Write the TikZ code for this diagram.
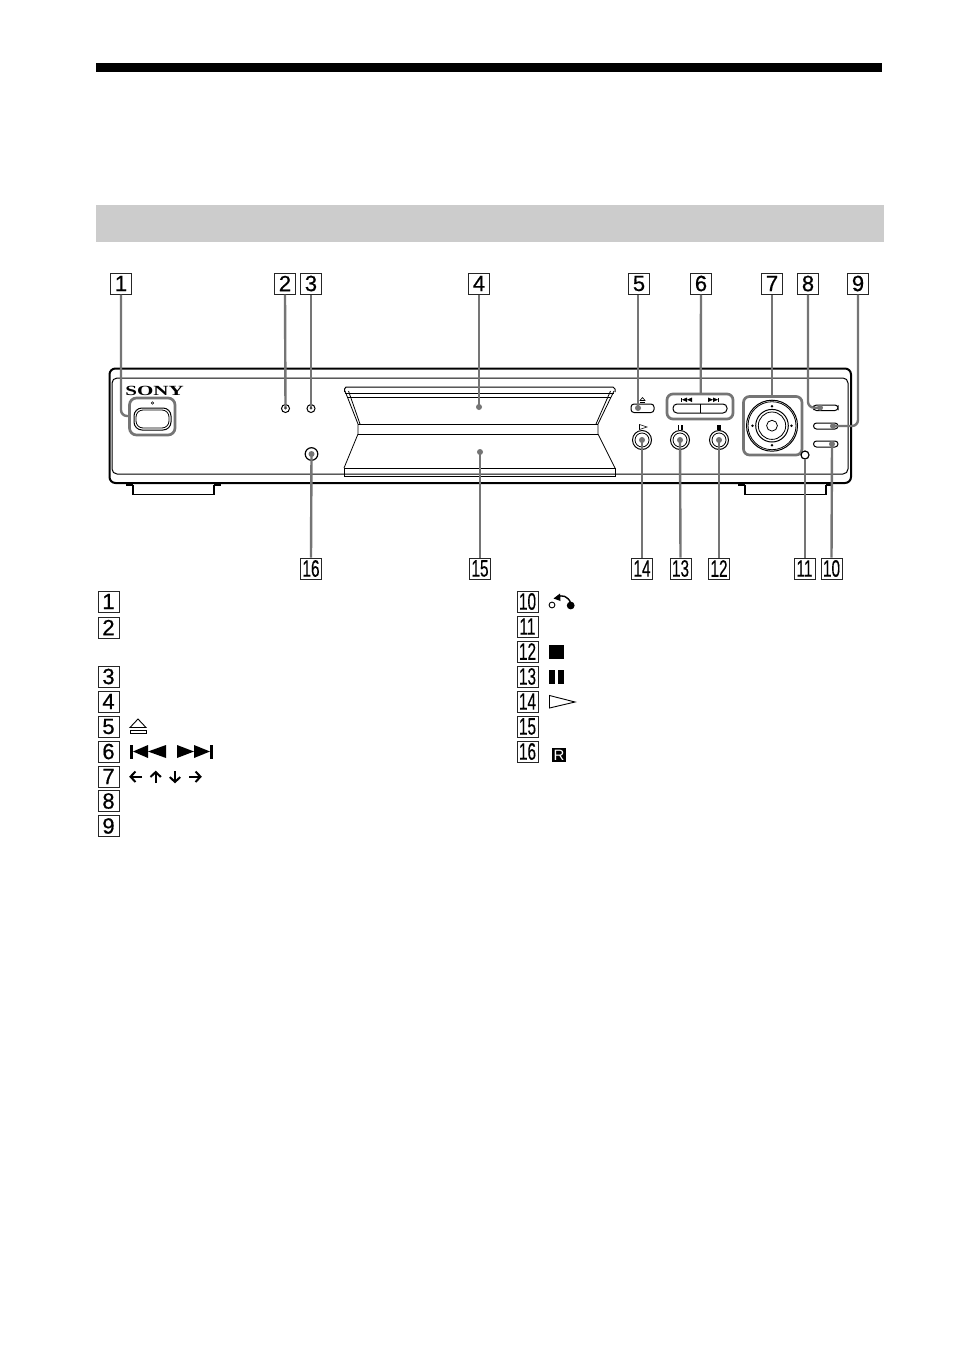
\documentclass[tikz,border=0pt]{standalone}
\usepackage{fontspec}
\setmainfont{Liberation Sans}
\newfontfamily\numfont[FakeBold=0.6]{Liberation Sans}
\newfontfamily\numfontb[FakeBold=0.3]{Liberation Sans}
\newfontfamily\sonyfont{Liberation Serif}
\usetikzlibrary{calc}
\definecolor{lead}{HTML}{757575}
\tikzset{
  numbox/.style={draw=black!85,line width=1pt,fill=white,minimum width=21pt,minimum height=21pt,inner sep=0pt,font=\numfont\fontsize{22}{22}\selectfont},
  leader/.style={draw=lead,line width=2.4pt,rounded corners=6pt},
  devline/.style={draw=black,line width=1pt},
  thin line/.style={draw=black,line width=.8pt},
  group box/.style={draw=lead,line width=2.7pt,rounded corners=6pt},
  pin/.style={circle,fill=lead,inner sep=0pt,minimum size=6pt},
  small pin/.style={circle,fill=black!75,inner sep=0pt,minimum size=3pt},
  oblong/.style={draw=black,line width=1pt,rounded corners=3pt,fill=white},
  icon arrow/.style={line width=2pt,draw=black},
}
\newcommand{\one}[1]{#1}
\newcommand{\two}[1]{\scalebox{.7}[1.08]{\numfontb #1}}
\begin{document}
\begin{tikzpicture}[x=1pt,y=-1pt]
\useasboundingbox (0,0) rectangle (954,1352);
\fill[white] (0,0) rectangle (954,1352);
% bars
\fill[black] (96,63) rectangle (882,72);
\fill[black!20] (96,205) rectangle (884,241.5);

% feet
\foreach \a/\b/\c/\d in {126/133/214/221,738/745/826/831}{
  \draw[line width=2pt] (\a,485) -- (\b,485);
  \draw[line width=2pt] (\c,485) -- (\d,485);
  \draw[devline,line width=1.3pt] (\b,485) -- (\b,494.5) -- (\c,494.5) -- (\c,485);
}
% chassis
\draw[draw=black,line width=2pt,rounded corners=6pt] (109.5,368.5) rectangle (851,483);
\draw[devline,rounded corners=5pt] (112,378) -- (848,378) -- (848,474) -- (112,474) -- cycle;
\node[font=\sonyfont\bfseries\fontsize{14}{14}\selectfont,inner sep=0pt] (sony) at (154.5,390.5) {\scalebox{1.5}[1]{SONY}};
% power
\draw[oblong,rounded corners=8pt] (134,408) rectangle (171,430);
\draw[thin line,rounded corners=7pt] (136,410) rectangle (169,428);
\draw[line width=.6pt] (152.5,403) circle (1.3);
\draw[group box,rounded corners=7pt] (129.5,398) rectangle (175,435);
% leds
\draw[devline] (285.5,408.5) circle (4);
\draw[devline] (311,408.5) circle (4);
\draw[devline,line width=1.2pt] (311.5,454) circle (6.3);
% tray
\draw[devline] (344.5,392) -- (344.5,389) -- (346,387) -- (613,387) -- (615,389) -- (615,392);
\draw[devline] (344,468) -- (344,476) -- (615,476) -- (615,468) -- cycle;
\draw[thin line] (345,393) -- (614,393);
\draw[thin line] (348,397) -- (611,397);
\draw[thin line] (358,424) -- (598,424);
\draw[thin line] (358,434) -- (598,434);
\draw[thin line] (345,391) -- (358,424) -- (358,434) -- (344,468);
\draw[thin line] (348.5,391) -- (360,424);
\draw[thin line] (614,391) -- (598,424) -- (598,434) -- (615,468);
\draw[thin line] (610.5,391) -- (596,424);
% eject button
\draw[oblong] (631,404) rectangle (654,412.5);
\draw[line width=.6pt] (640,400.5) -- (642.5,397.5) -- (645,400.5) -- cycle;
\fill (640,401.5) rectangle (645,402.4);
% track group
\draw[oblong,rounded corners=4pt] (673,404) rectangle (727,413);
\draw[devline] (700,404) -- (700,413);
\fill (681,397.5) rectangle (682,402); \fill (687,397.5) -- (682,399.7) -- (687,402) -- cycle; \fill (692,397.5) -- (687,399.7) -- (692,402) -- cycle;
\fill (708,397.5) -- (713,399.7) -- (708,402) -- cycle; \fill (713,397.5) -- (718,399.7) -- (713,402) -- cycle; \fill (718,397.5) rectangle (719,402);
\draw[group box] (667,394) rectangle (733,419);
% nav pad
\coordinate (padc) at (772,425.7);
\draw[devline] (padc) circle (25.5);
\draw[thin line] (padc) circle (24);
\draw[devline] (padc) circle (16.3);
\draw[thin line] (padc) circle (13.7);
\draw[thin line] (padc) circle (5.4);
\foreach \dx/\dy in {0/-19.5,0/19.5,-19.5/0,19.5/0}{
  \fill ($(padc)+(\dx,\dy)$) circle (1.4);
}
\draw[group box] (743.5,396.5) rectangle (802,455);
% right oblongs
\draw[oblong] (813.5,405) rectangle (838,410.5);
\draw[oblong] (813.5,423) rectangle (838,429);
\draw[oblong] (813.5,441) rectangle (838,447);
% small circle
\draw[draw=black,line width=1.2pt,fill=white] (805,455) circle (4);
% round buttons
\foreach \x in {642,680,719}{
  \draw[devline] (\x,440) circle (9.5);
  \draw[thin line] (\x,440) circle (7);
}
\draw[line width=.6pt] (639.5,424.5) -- (647,427) -- (639.5,429.5) -- cycle;
\fill (677.6,424.5) rectangle (679.4,429.5); \fill (680.8,424.5) rectangle (682.6,429.5);
\fill (716.8,424.5) rectangle (721.2,429.5);

% anchors of connectors
\coordinate (t1) at (130,416);
\coordinate (t2) at (285.5,408);
\coordinate (t3) at (311,408);
\coordinate (t4) at (479,407);
\coordinate (t5) at (638,408);
\coordinate (t6) at (700.7,394);
\coordinate (t7) at (772,396.5);
\coordinate (t8) at (820,407.7);
\coordinate (t9) at (833,426);
\coordinate (t10) at (832,444);
\coordinate (t11) at (805,459);
\coordinate (t12) at (719,440);
\coordinate (t13) at (680,440);
\coordinate (t14) at (642,440);
\coordinate (t15) at (480,452);
\coordinate (t16) at (311.5,454);

% top labels
\node[numbox] (a1) at (121,283.5) {\one{1}};
\node[numbox] (a2) at (285,283.5) {\one{2}};
\node[numbox] (a3) at (311,283.5) {\one{3}};
\node[numbox] (a4) at (479,283.5) {\one{4}};
\node[numbox] (a5) at (639,283.5) {\one{5}};
\node[numbox] (a6) at (701,283.5) {\one{6}};
\node[numbox] (a7) at (772,283.5) {\one{7}};
\node[numbox] (a8) at (808,283.5) {\one{8}};
\node[numbox] (a9) at (858,283.5) {\one{9}};
% bottom labels
\node[numbox] (a16) at (311,568.5) {\two{16}};
\node[numbox] (a15) at (480,568.5) {\two{15}};
\node[numbox] (a14) at (642,568.5) {\two{14}};
\node[numbox] (a13) at (680.5,568.5) {\two{13}};
\node[numbox] (a12) at (719,568.5) {\two{12}};
\node[numbox] (a11) at (804.5,568.5) {\two{11}};
\node[numbox] (a10) at (831.5,568.5) {\two{10}};

% leaders
\draw[leader] (a1.south) -- (a1.south |- t1) -- (t1);
\draw[leader] (a2.south) -- (t2);
\draw[leader] (a3.south) -- (t3);
\draw[leader] (a4.south) -- (t4);
\draw[leader] (a5.south -| t5) -- (t5);
\draw[leader] (a6.south) -- (t6);
\draw[leader] (a7.south) -- (t7);
\draw[leader] (a8.south) -- (a8.south |- t8) -- (t8);
\draw[leader] (a9.south) -- (a9.south |- t9) -- (t9);
\draw[leader] (a10.north) -- (t10);
\draw[leader] (a11.north -| t11) -- (t11);
\draw[leader] (a12.north) -- (t12);
\draw[leader] (a13.north) -- (t13);
\draw[leader] (a14.north) -- (t14);
\draw[leader] (a15.north) -- (t15);
\draw[leader] (a16.north) -- (t16);
\foreach \t in {t4,t5,t8,t9,t10,t12,t13,t14,t15,t16} \node[pin] at (\t) {};
\foreach \t in {t2,t3} \node[small pin] at (\t) {};

% legend left
\node[numbox] (l1) at (108.5,601.5) {\one{1}};
\node[numbox] (l2) at (108.5,627.5) {\one{2}};
\node[numbox] (l3) at (108.5,676.5) {\one{3}};
\node[numbox] (l4) at (108.5,701.5) {\one{4}};
\node[numbox] (l5) at (108.5,726.5) {\one{5}};
\node[numbox] (l6) at (108.5,751.5) {\one{6}};
\node[numbox] (l7) at (108.5,776.5) {\one{7}};
\node[numbox] (l8) at (108.5,801) {\one{8}};
\node[numbox] (l9) at (108.5,826) {\one{9}};
% legend right
\node[numbox] (r10) at (527.5,601.5) {\two{10}};
\node[numbox] (r11) at (527.5,626.5) {\two{11}};
\node[numbox] (r12) at (527.5,651.5) {\two{12}};
\node[numbox] (r13) at (527.5,676.5) {\two{13}};
\node[numbox] (r14) at (527.5,701.5) {\two{14}};
\node[numbox] (r15) at (527.5,726.5) {\two{15}};
\node[numbox] (r16) at (527.5,751.5) {\two{16}};

% legend glyphs: eject
\draw[line width=.9pt] (130,727.5) -- (138,719) -- (146,727.5) -- cycle;
\draw[line width=.9pt] (130,730) rectangle (146,733.5);
% previous / next
\fill (130,744.5) rectangle (133,758.5);
\fill (148,745) -- (133,751.5) -- (148,758) -- cycle;
\fill (166,745) -- (148,751.5) -- (166,758) -- cycle;
\fill (177,745) -- (194,751.5) -- (177,758) -- cycle;
\fill (194,745) -- (210,751.5) -- (194,758) -- cycle;
\fill (210,744.5) rectangle (213,758.5);
% arrows
\draw[icon arrow] (142,776.7) -- (130.5,776.7);
\draw[icon arrow] (135.5,771.5) -- (130.5,776.7) -- (135.5,782);
\draw[icon arrow] (155.7,783) -- (155.7,772);
\draw[icon arrow] (150.5,777) -- (155.7,772) -- (160.9,777);
\draw[icon arrow] (175,771) -- (175,782);
\draw[icon arrow] (169.8,777) -- (175,782) -- (180.2,777);
\draw[icon arrow] (189,776.7) -- (200.5,776.7);
\draw[icon arrow] (195.5,771.5) -- (200.5,776.7) -- (195.5,782);
% return
\draw[line width=.9pt] (552,605) circle (2.9);
\fill (570.7,605.5) circle (3.9);
\draw[line width=1.4pt] (570.7,603) .. controls (568,596) and (562,594.5) .. (557,597);
\fill (560,593.5) -- (553.5,598.5) -- (560.5,601) -- cycle;
% stop, pause, play
\fill (549,644.5) rectangle (563.5,658.5);
\fill (549,669.5) rectangle (554.5,684);
\fill (558,669.5) rectangle (563.5,684);
\draw[line width=.9pt] (549.5,695.5) -- (575,702) -- (549.5,708) -- cycle;
% remote sensor mark
\node[fill=black,text=white,font=\fontsize{15}{15}\selectfont,inner sep=0pt,minimum width=14pt,minimum height=14pt,text height=10.5pt,text depth=0pt] (ir) at (559,755) {R};
\end{tikzpicture}
\end{document}
